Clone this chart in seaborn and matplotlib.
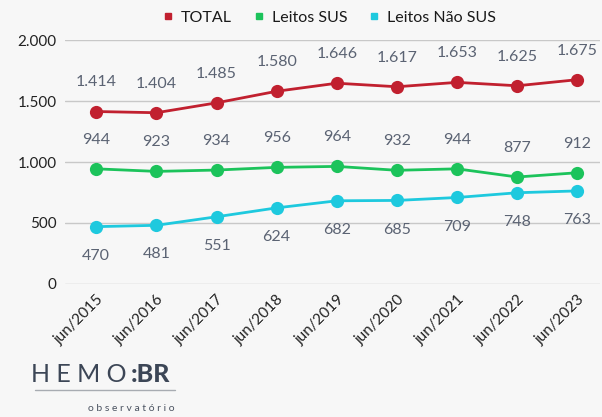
import pandas as pd
import matplotlib
matplotlib.use("Agg")
import matplotlib.pyplot as plt
import seaborn as sns
from matplotlib.lines import Line2D

sns.set_style("white")
plt.rcParams['font.family'] = ['Lato', 'DejaVu Sans']

# dados
periodos = ['jun/2015', 'jun/2016', 'jun/2017', 'jun/2018', 'jun/2019',
            'jun/2020', 'jun/2021', 'jun/2022', 'jun/2023']
total = [1414, 1404, 1485, 1580, 1646, 1617, 1653, 1625, 1675]
leitos_sus = [944, 923, 934, 956, 964, 932, 944, 877, 912]
leitos_nao_sus = [470, 481, 551, 624, 682, 685, 709, 748, 763]

series = {'TOTAL': total, 'Leitos SUS': leitos_sus, 'Leitos Não SUS': leitos_nao_sus}
cores = {'TOTAL': '#c1202f', 'Leitos SUS': '#1cc35b', 'Leitos Não SUS': '#1ec9de'}
acima = {'TOTAL': True, 'Leitos SUS': True, 'Leitos Não SUS': False}

df = pd.DataFrame([(i, p, nome, v) for nome, vals in series.items()
                   for i, (p, v) in enumerate(zip(periodos, vals))],
                  columns=['idx', 'periodo', 'serie', 'valor'])

fundo = '#f7f7f7'
fig = plt.figure(figsize=(6.02, 4.17), dpi=100, facecolor=fundo)
ax = fig.add_axes([0.108, 0.319, 0.889, 0.585], facecolor=fundo)

sns.lineplot(data=df, x='idx', y='valor', hue='serie', palette=cores,
             marker='o', markersize=9.5, markeredgewidth=0, linewidth=2,
             legend=False, ax=ax)

def fmt(v):
    return f'{v:,}'.replace(',', '.')

for nome, vals in series.items():
    for i, v in enumerate(vals):
        dy = 21 if acima[nome] else -21
        ax.annotate(fmt(v), (i, v), xytext=(0, dy), textcoords='offset points',
                    ha='center', va='center', fontsize=11.5, color='#5b6373')

ax.set_xlim(-0.52, 8.38)
ax.set_ylim(0, 2000)
ax.set_yticks([0, 500, 1000, 1500, 2000])
ax.set_yticklabels([fmt(t) for t in [0, 500, 1000, 1500, 2000]], fontsize=11, color='#222222')
ax.set_xticks(range(len(periodos)))
ax.set_xticklabels(periodos, rotation=45, ha='right', rotation_mode='anchor',
                   fontsize=11, color='#222222')
ax.tick_params(axis='both', length=0, pad=6)
ax.yaxis.grid(True, color='#c8c8c8', linewidth=1)
ax.set_axisbelow(True)
for s in ax.spines.values():
    s.set_visible(False)
ax.set_xlabel('')
ax.set_ylabel('')

handles = [Line2D([], [], marker='s', linestyle='', color=cores[n], markersize=5) for n in series]
fig.legend(handles, list(series), loc='center', bbox_to_anchor=(0.545, 0.958), ncol=3,
           frameon=False, fontsize=11.5, handletextpad=0.3, columnspacing=1.2,
           handlelength=1.0, labelcolor='#1a1a1a')

# logo
fig.text(0.052, 0.083, 'H E M O', fontsize=18, color='#3c4656', fontweight='normal')
fig.text(0.218, 0.083, ':BR', fontsize=18, color='#3c4656', fontweight='black')
fig.add_artist(Line2D([0.058, 0.29], [0.065, 0.065], color='#a8acb2', linewidth=1))
fig.text(0.29, 0.015, 'o b s e r v a t ó r i o', fontsize=7.5, color='#4a5260', ha='right')

fig.savefig('out.png', dpi=100, facecolor=fundo)
